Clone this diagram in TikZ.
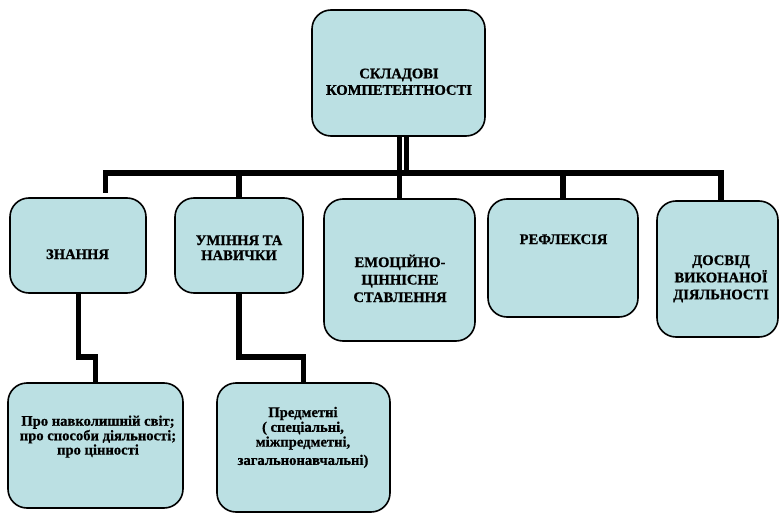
\documentclass[tikz,border=0pt]{standalone}
\usepackage{fontspec}
\setmainfont{Liberation Serif}[BoldFeatures={FakeBold=0.8}]
\definecolor{boxfill}{RGB}{187,224,227}
\tikzset{
  box/.style={draw=black, line width=1.6pt, fill=boxfill, rounded corners=19pt, inner sep=0pt},
  conn/.style={draw=black, line width=5.5pt, line cap=butt, line join=miter},
  capt/.style={anchor=base, inner sep=0pt, font=\bfseries\fontsize{14.6}{16.5}\selectfont},
  small/.style={anchor=base, inner sep=0pt, font=\bfseries\fontsize{14.6}{13.8}\selectfont}
}
\newcommand{\lines}[1]{\begin{tabular}[t]{@{}c@{}}#1\end{tabular}}
\begin{document}
\begin{tikzpicture}[x=1pt,y=-1pt]
\useasboundingbox (0,0) rectangle (779,513);
% boxes
\node[box, minimum width=173, minimum height=126] (top) at (398.5,73) {};
\node[box, minimum width=136, minimum height=95] (zn) at (78,245.5) {};
\node[box, minimum width=128, minimum height=95] (um) at (239,245.5) {};
\node[box, minimum width=151, minimum height=142] (emo) at (399.5,270) {};
\node[box, minimum width=150, minimum height=118] (refl) at (563,258) {};
\node[box, minimum width=121, minimum height=136] (dos) at (717.5,269) {};
\node[box, minimum width=175, minimum height=125] (bl) at (95.5,445.5) {};
\node[box, minimum width=173, minimum height=129] (br) at (303.5,447.5) {};
% texts
\node[capt] (ttop) at (399,78.3) {\lines{СКЛАДОВІ\\КОМПЕТЕНТНОСТІ}};
\node[capt] (tzn) at (77.5,259) {ЗНАННЯ};
\node[capt] (tum) at (239,245) {\fontsize{14.6}{15}\selectfont\lines{УМІННЯ ТА\\НАВИЧКИ}};
\node[capt] (temo) at (400,267) {\fontsize{14.6}{17.5}\selectfont\lines{ЕМОЦІЙНО-\\ЦІННІСНЕ\\СТАВЛЕННЯ}};
\node[capt] (trefl) at (563.5,244) {РЕФЛЕКСІЯ};
\node[capt] (tdos) at (721,265) {\fontsize{14.6}{17}\selectfont\lines{ДОСВІД\\ВИКОНАНОЇ\\ДІЯЛЬНОСТІ}};
\node[small] (tbl) at (98,425.7) {\lines{Про навколишній світ;\\про способи діяльності;\\про цінності}};
\node[small] (tbr) at (303,417) {\fontsize{14.6}{14.8}\selectfont\lines{Предметні\\( спеціальні,\\міжпредметні,\\[3.5pt]загальнонавчальні)}};
% connectors
\coordinate (barL) at (105.5,173);
\coordinate (barR) at (721,173);
\coordinate (znend) at (105.5,193);
\draw[conn] (top.south -| emo.north) -- (emo.north);
\draw[conn, line width=5pt] ([xshift=8]top.south) -- ([xshift=8]top.south |- barL);
\draw[conn] (znend) -- (barL) -- (barR) -- (barR |- dos.north);
\draw[conn] (um.north |- barL) -- (um.north);
\draw[conn] (refl.north |- barL) -- (refl.north);
\draw[conn] ([xshift=0.5]zn.south) -- ++(0,63) -| (bl.north);
\draw[conn] (um.south) -- ++(0,63) -| (br.north);
\end{tikzpicture}
\end{document}
